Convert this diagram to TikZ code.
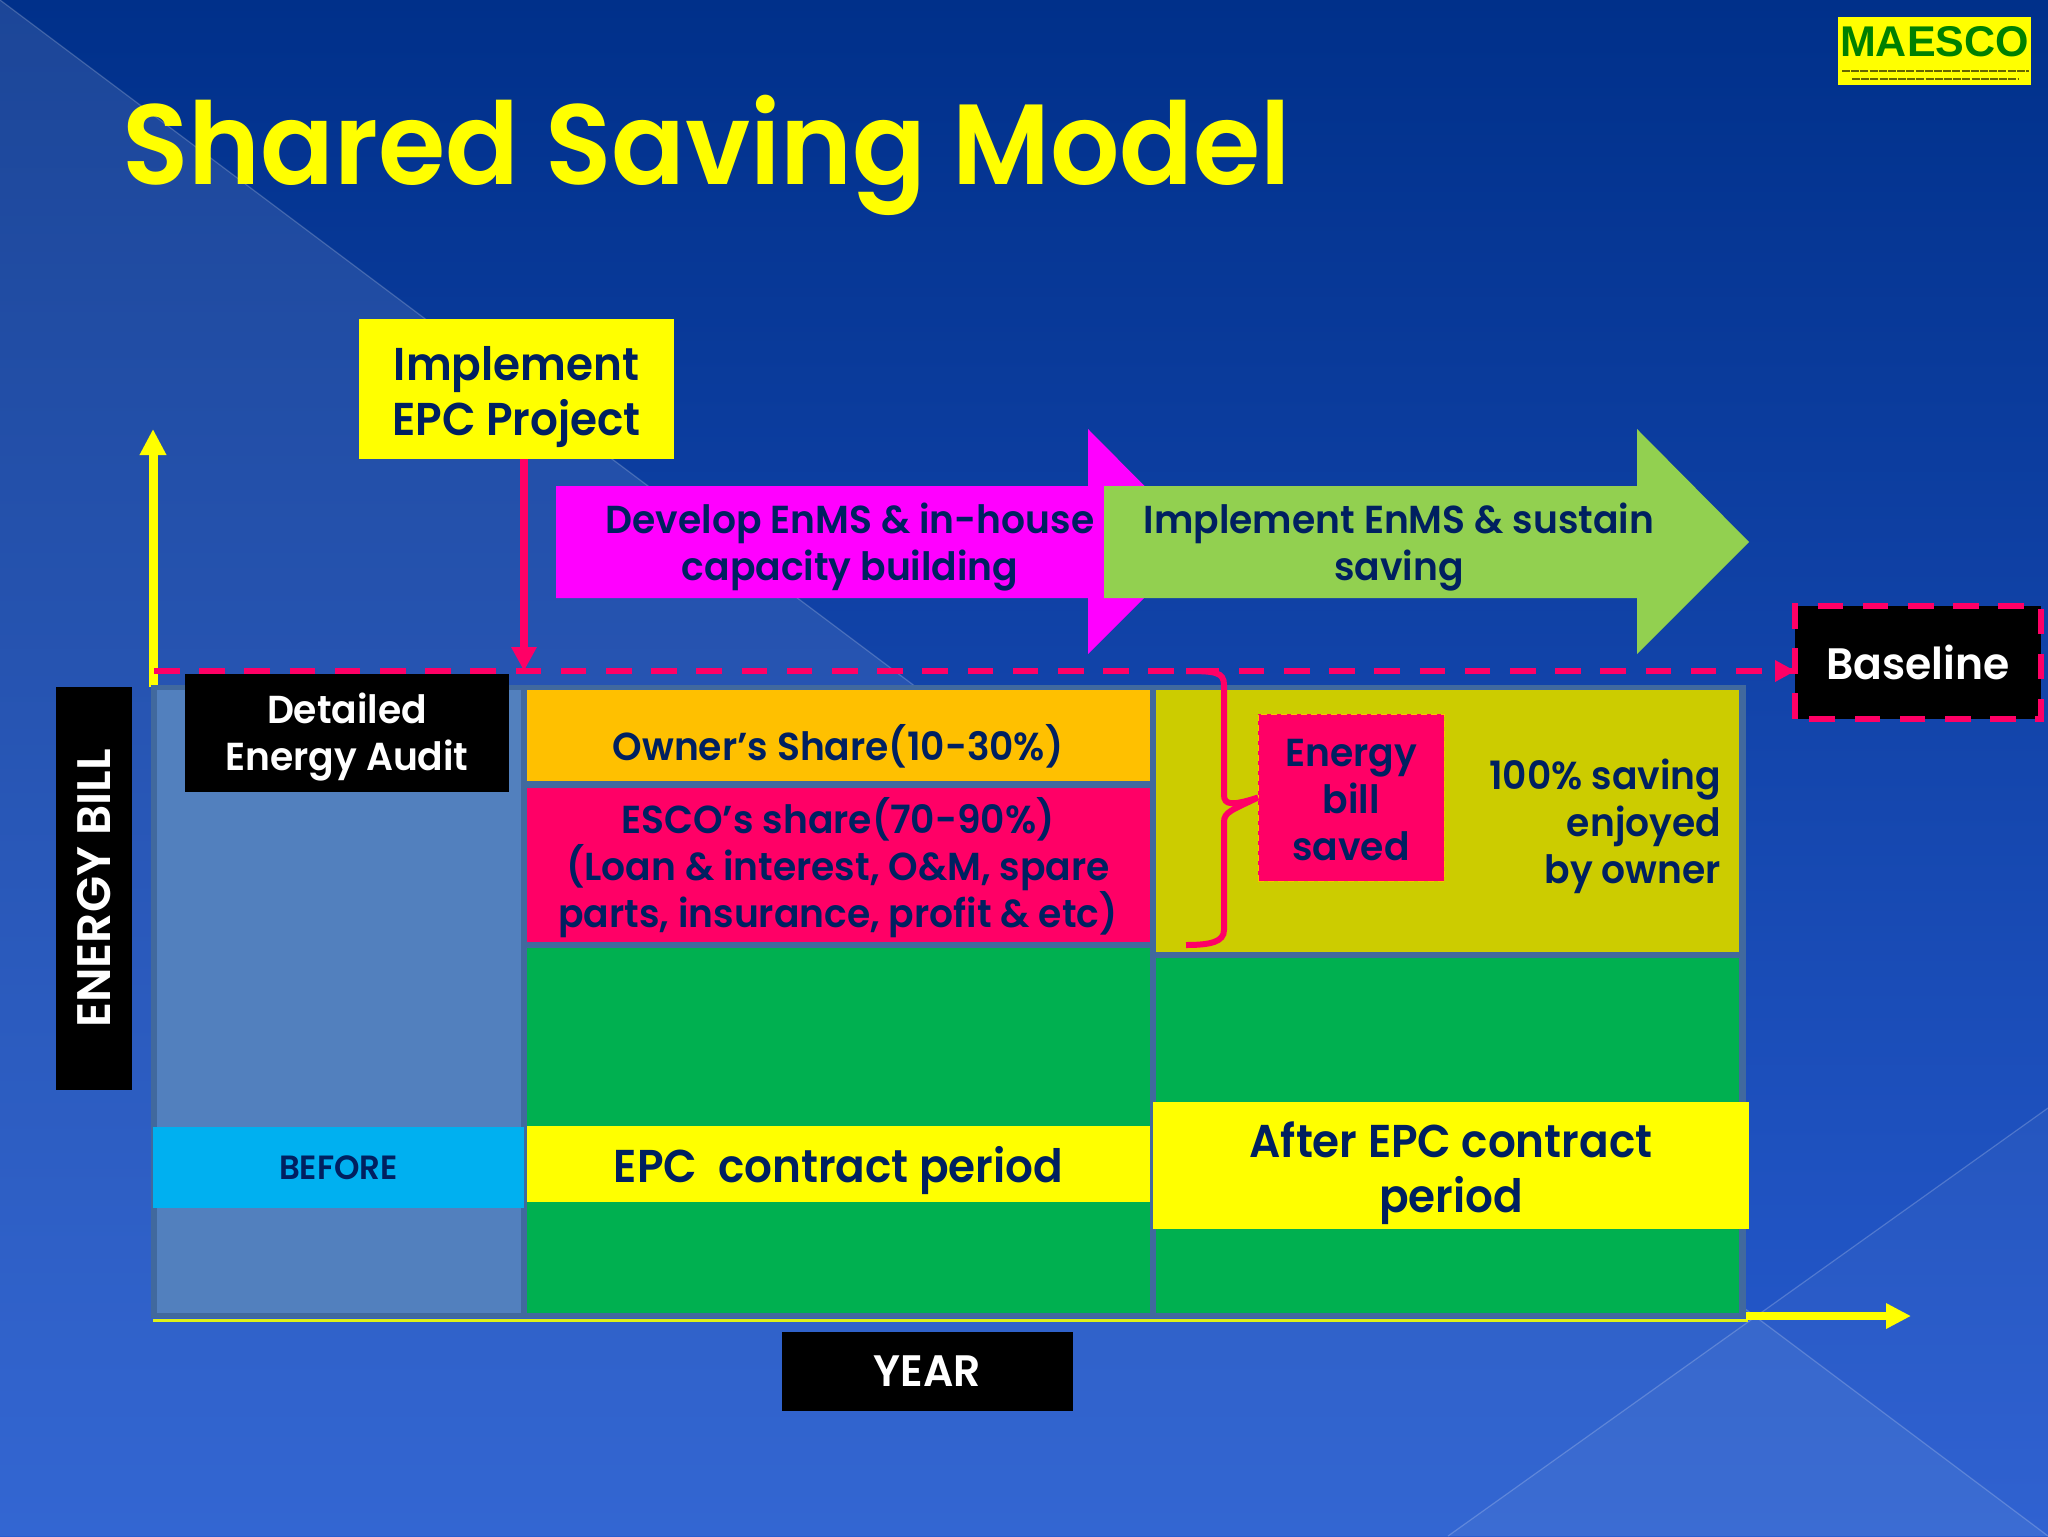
\documentclass[tikz,border=0pt]{standalone}
\usepackage{fontspec}
\setmainfont{Poppins}
\newfontfamily\fbody{Poppins SemiBold}[FakeStretch=0.965]
\newfontfamily\fbig{Poppins SemiBold}[FakeStretch=0.95]
\newfontfamily\fbill{Poppins SemiBold}
\newfontfamily\ftitle{Poppins SemiBold}[FakeStretch=0.955]
\newfontfamily\logofont{Liberation Sans}
\usetikzlibrary{arrows.meta}
\definecolor{navy}{HTML}{002060}
\definecolor{crim}{HTML}{FF0066}
\definecolor{steel}{HTML}{41699E}
\definecolor{panel}{HTML}{5280BE}
\definecolor{olive}{HTML}{CCCC00}
\definecolor{grn}{HTML}{00B050}
\definecolor{ora}{HTML}{FFC000}
\definecolor{sky}{HTML}{00B0F0}
\definecolor{lime}{HTML}{92D050}
\definecolor{mag}{HTML}{FF00FF}
\definecolor{yel}{HTML}{FFFF00}
\definecolor{bgtop}{HTML}{00308A}
\definecolor{bgmid}{HTML}{0A3FA8}
\definecolor{bgbot}{HTML}{285CD0}
\definecolor{wtop}{HTML}{1C4698}
\definecolor{wmid}{HTML}{1A49AA}
\definecolor{wbot}{HTML}{3366D2}
\newcommand\down[1]{\rule{0pt}{#1pt}}
\tikzset{
  x=0.5pt,y=-0.5pt,
  sized/.style 2 args={minimum width=#1*0.5pt,minimum height=#2*0.5pt},
  box/.style={inner sep=0pt,outer sep=0pt,align=center,text=navy,font=\fbody\fontsize{19.5}{23.5}\selectfont},
  big/.style={box,font=\fbig\fontsize{23}{27.5}\selectfont},
  whitebox/.style={box,fill=black,text=white},
  wedgeline/.style={draw=white,draw opacity=0.2,line width=0.6pt},
  pinkdash/.style={draw=crim,line width=2.7pt,dash pattern=on 12.8pt off 9.8pt},
}
\begin{document}
\begin{tikzpicture}
\useasboundingbox (0,0) rectangle (2048,1536);
% background
\path[top color=bgtop,middle color=bgmid,bottom color=bgbot] (0,0) rectangle (2048,1536);
\path[top color=wtop,middle color=wmid,bottom color=wbot] (0,0) -- (2048,1536) -- (0,1536) -- cycle;
\fill[white,fill opacity=0.04] (2048,1108) -- (1448,1536) -- (2048,1536) -- cycle;
\draw[wedgeline] (0,0) -- (2048,1536);
\draw[wedgeline] (2048,1108) -- (1448,1536);
% title
\node[anchor=base west,inner sep=0pt,text=yel,font=\ftitle\fontsize{57}{66}\selectfont] (title) at (122,184) {Shared Saving Model};
% logo
\node[fill=yel,inner sep=0pt,sized={193}{68}] (logo) at (1934.5,51) {};
\node[inner sep=0pt,text=green!50!black,font=\logofont\bfseries\fontsize{21.5}{24}\selectfont] (logotext) at (1934.5,42) {MAESCO};
\draw[black!60!yel,line width=1.4pt,dash pattern=on 4pt off 0.6pt] (1842,71) -- (2029,71);
\draw[black!60!yel,line width=1.2pt,dash pattern=on 4pt off 0.6pt] (1852,79) -- (2019,79);
% axes
\coordinate (ybase) at (153,687);
\coordinate (ytip) at (153,429);
\draw[yel,line width=4.5pt,-{Triangle[length=13pt,width=12.5pt]}] (ybase) -- (ytip);
\draw[yel!70!lime,line width=1.5pt] (153,1320) -- (1748,1320);
\coordinate (xbase) at (1746,1316);
\coordinate (xtip) at (1911,1316);
\draw[yel,line width=4pt,-{Triangle[length=12.5pt,width=12pt]}] (xbase) -- (xtip);
% grid
\fill[steel] (151,685) rectangle (1746,1318);
\fill[panel] (157,690) rectangle (521,1313);
\fill[ora] (527,690) rectangle (1150,781);
\fill[crim] (527,788) rectangle (1150,942);
\fill[grn] (527,948) rectangle (1150,1313);
\fill[olive] (1156,690) rectangle (1739,952);
\fill[grn] (1156,958) rectangle (1739,1313);
% cell labels
\node[box] (owner) at (838,746) {Owner’s Share(10-30\%)};
\node[box] (esco) at (838,868) {ESCO’s share(70-90\%)\\(Loan \& interest, O\&M, spare\\parts, insurance, profit \& etc)};
\node[box,align=right,anchor=east] (hundred) at (1721,826) {100\% saving\\enjoyed\\by owner};
\node[box,fill=crim,draw=ora,densely dashed,line width=0.3pt,sized={186}{167}] (saved) at (1351,797.5) {\down{16.4}Energy\\bill\\saved};
% big arrows
\fill[mag] (556,486) -- (1088,486) -- (1088,429) -- (1200,542) -- (1088,654) -- (1088,598) -- (556,598) -- cycle;
\fill[lime] (1104,486) -- (1637,486) -- (1637,429) -- (1749,542) -- (1637,654) -- (1637,598) -- (1104,598) -- cycle;
\node[box] (develop) at (850,547) {Develop EnMS \& in-house\\capacity building};
\node[box] (sustain) at (1399,547) {Implement EnMS \& sustain\\saving};
% boxes
\node[big,fill=yel,sized={315.5}{140}] (impl) at (516.5,389) {\down{25}Implement\\EPC Project};
\node[whitebox,sized={324}{118}] (audit) at (347,733) {\down{19.4}Detailed\\Energy Audit};
\node[whitebox,rotate=90,font=\fbill\fontsize{23.5}{27}\selectfont,sized={403}{76}] (bill) at (94,888.5) {ENERGY BILL};
\node[box,fill=sky,font=\fbody\fontsize{16.8}{20}\selectfont,sized={371}{81}] (before) at (338.5,1167.5) {BEFORE};
\node[big,fill=yel,sized={623}{76}] (epc) at (838.5,1164) {\down{25}EPC\ \ contract period};
\node[big,fill=yel,sized={596}{127}] (after) at (1451,1165.5) {\down{26}After EPC contract\\period};
\node[whitebox,font=\fbody\fontsize{22}{26}\selectfont,sized={291}{79}] (year) at (927.5,1371.5) {YEAR};
\node[whitebox,font=\fbody\fontsize{22}{26}\selectfont,sized={246}{113}] (base) at (1918,662.5) {Baseline};
\draw[pinkdash] (base.south west) -- (base.north west) -- (base.north east) -- (base.south east) -- cycle;
% connectors
\coordinate (bstart) at (154,671);
\coordinate (bend) at (1795,671);
\draw[pinkdash] (bstart) -- (bend);
\fill[crim] (bend) -- ++(-20,-11) -- ++(0,22) -- cycle;
\coordinate (imptip) at (524,671);
\draw[crim,line width=4pt,-{Triangle[length=12pt,width=12pt]}] (impl.south -| imptip) -- (imptip);
% brace
\draw[crim,line width=3pt,line cap=butt] (1186,671) .. controls (1215,671) and (1224,672) .. (1224,685) -- (1224,795) .. controls (1224,805) and (1232,806) .. (saved.west) .. controls (1232,810) and (1224,812) .. (1224,822) -- (1224,930) .. controls (1224,942) and (1210,945) .. (1186,945);
\end{tikzpicture}
\end{document}
